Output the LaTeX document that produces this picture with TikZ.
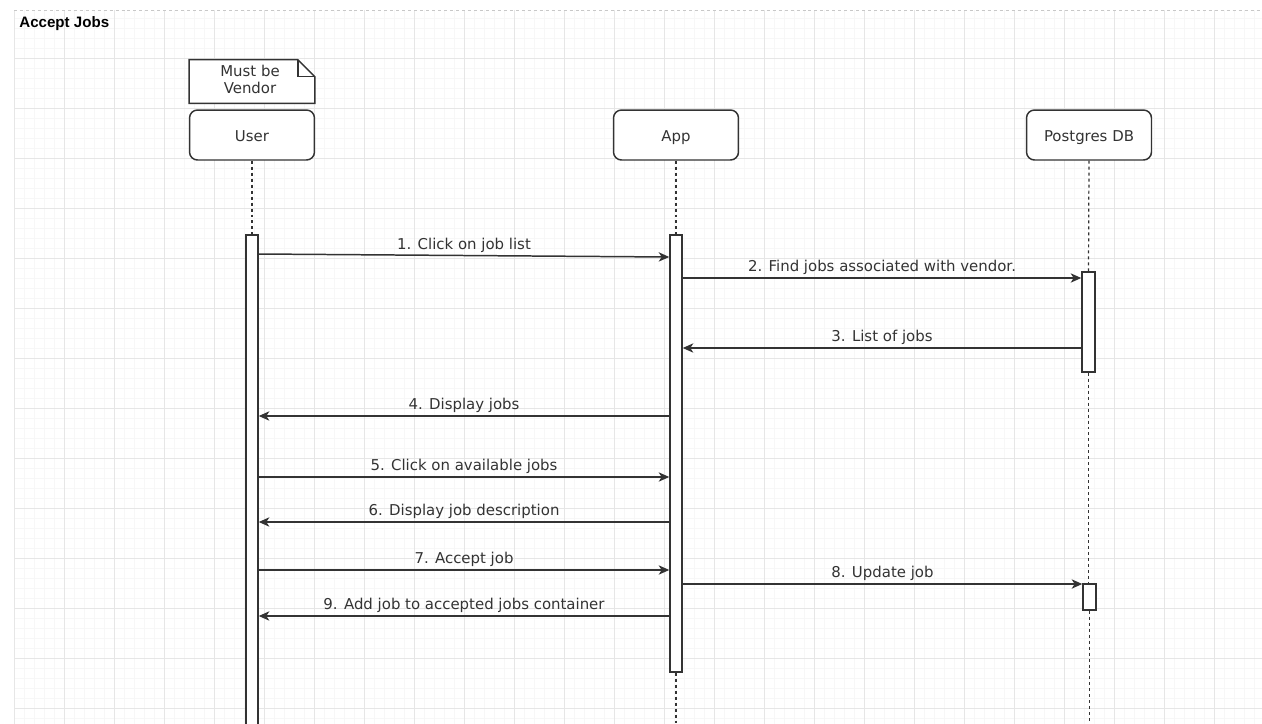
\documentclass[tikz,border=0pt]{standalone}
\usepackage{fontspec}
\setmainfont{DejaVu Sans}
\newfontfamily\titlefont{Liberation Sans}
\usetikzlibrary{arrows.meta}
\definecolor{ink}{HTML}{333333}
\definecolor{gmin}{HTML}{F7F7F7}
\definecolor{gmaj}{HTML}{E6E6E6}
\definecolor{topline}{HTML}{C8C8C8}
\begin{document}
\begin{tikzpicture}[x=0.02cm,y=-0.02cm,
  lbl/.style={font=\fontsize{8.5}{10}\selectfont, text=ink},
  participant/.style={draw=ink, line width=0.85pt, rounded corners=0.16cm, fill=white,
    minimum width=2.5cm, minimum height=1cm, inner sep=0pt, lbl, text height=7.8pt, text depth=0.8pt},
  act/.style={draw=ink, line width=0.85pt, fill=white, minimum width=0.24cm, inner sep=0pt},
  life/.style={draw=ink, line width=0.7pt, dash pattern=on 1.7pt off 1.7pt},
  msg/.style={draw=ink, line width=0.85pt, -{Stealth[length=6pt,width=5.3pt,inset=1.7pt]}},
  msglbl/.style={lbl, above, inner sep=1.3pt, midway}]
\useasboundingbox (0,0) rectangle (1262,724);
\clip (0,0) rectangle (1262,724);
\fill[white] (0,0) rectangle (1262,724);
% grid
\foreach \x in {14,24,...,1262} \draw[gmin, line width=0.4pt] (\x,10) -- (\x,724);
\foreach \y in {18,28,...,724} \draw[gmin, line width=0.4pt] (14,\y) -- (1262,\y);
\foreach \x in {14,64,...,1262} \draw[gmaj, line width=0.5pt] (\x,10) -- (\x,724);
\foreach \y in {58,108,...,724} \draw[gmaj, line width=0.5pt] (14,\y) -- (1262,\y);
\draw[topline, line width=0.5pt, dash pattern=on 1.7pt off 1.7pt] (14,10) -- (1262,10);
% title
\node[anchor=base west, inner sep=0pt, font=\titlefont\bfseries\fontsize{8.6}{10}\selectfont, text=black] (title) at (19,27) {Accept Jobs};
% note
\node[minimum width=2.5cm, minimum height=0.86cm, inner sep=0pt] (note) at (252,81.5) {};
\draw[ink, line width=0.85pt, fill=white, line join=miter]
  (note.south west) -- (note.north west) -- ([xshift=-0.34cm]note.north east)
  -- ([yshift=-0.34cm]note.north east) -- (note.south east) -- cycle;
\draw[ink, line width=0.85pt] ([xshift=-0.34cm]note.north east) -- ++(0,17) -- ++(17,0);
\node[align=center, lbl, font=\fontsize{8.5}{9.7}\selectfont, inner sep=0pt] (notetext) at (250,79) {Must be\\Vendor};
% participants
\node[participant] (user) at (252,135) {User};
\node[participant] (app) at (676,135) {App};
\node[participant] (db) at (1089,135) {Postgres DB};
% activations
\node[act, minimum height=10.1cm] (uact) at (252,487.5) {};
\node[act, minimum height=8.74cm] (aact) at (676,453.5) {};
\node[act, minimum width=0.26cm, minimum height=2cm] (dact1) at (1088.5,322) {};
\node[act, minimum width=0.26cm, minimum height=0.52cm] (dact2) at (1089.5,597) {};
% lifelines
\coordinate (abot) at (676,724);
\coordinate (dbot) at (1089,724);
\draw[life] (user.south) -- (uact.north);
\draw[life] (app.south) -- (aact.north);
\draw[life] (aact.south) -- (abot);
\draw[life] (db.south) -- (dact1.north);
\draw[life] (dact1.south) -- (dact2.north -| dact1.south);
\draw[life] (dact2.south) -- (dbot -| dact2.south);
% messages
\draw[msg] (uact.east |- 0,254) -- node[msglbl] {1. Click on job list} (aact.west |- 0,257);
\draw[msg] (aact.east |- 0,278) -- node[msglbl] {2. Find jobs associated with vendor.} (dact1.west |- 0,278);
\draw[msg] (dact1.west |- 0,348) -- node[msglbl] {3. List of jobs} (aact.east |- 0,348);
\draw[msg] (aact.west |- 0,416) -- node[msglbl] {4. Display jobs} (uact.east |- 0,416);
\draw[msg] (uact.east |- 0,477) -- node[msglbl] {5. Click on available jobs} (aact.west |- 0,477);
\draw[msg] (aact.west |- 0,522) -- node[msglbl] {6. Display job description} (uact.east |- 0,522);
\draw[msg] (uact.east |- 0,570) -- node[msglbl] {7. Accept job} (aact.west |- 0,570);
\draw[msg] (aact.east |- 0,584) -- node[msglbl] {8. Update job} (dact2.west |- 0,584);
\draw[msg] (aact.west |- 0,616) -- node[msglbl] {9. Add job to accepted jobs container} (uact.east |- 0,616);
\end{tikzpicture}
\end{document}
